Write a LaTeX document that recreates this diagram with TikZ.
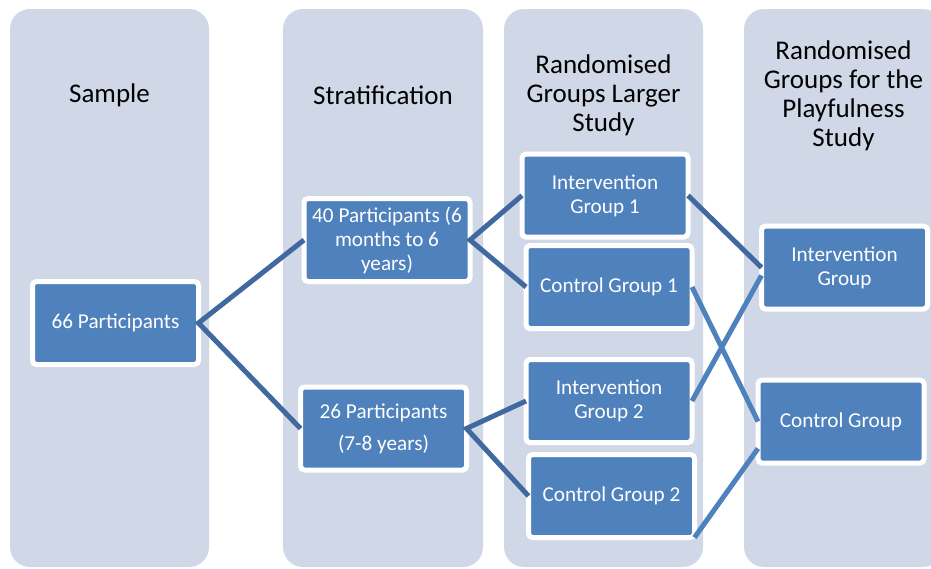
\documentclass[tikz,border=0pt]{standalone}
\usepackage{fontspec}
\setmainfont{Carlito}

\definecolor{colfill}{HTML}{D0D8E8}
\definecolor{boxblue}{HTML}{4F81BD}
\definecolor{linkdark}{HTML}{41699F}
\definecolor{linklight}{HTML}{4F81BD}

\begin{document}
\begin{tikzpicture}[x = 1pt, y = -1pt,
        group/.style = {rectangle, rounded corners = 4pt, fill = boxblue, draw = white, line width = 5pt,
            minimum width = 166pt, minimum height = 83pt, inner sep = 0pt, outer sep = 0pt,
            text = white, align = center, font = \fontsize{21.2}{24}\selectfont},
        heading/.style = {align = center, font = \fontsize{27}{29}\selectfont},
        link/.style = {draw = linkdark, line width = 5pt}]
            % \draw[style = help lines, step = 50] (0,0) grid (931,568);
            \useasboundingbox (0,0) rectangle (931,568);
            \clip (0,0) rectangle (931,568);

            \fill[colfill, rounded corners = 20pt] (10,9) rectangle (209,567);
            \fill[colfill, rounded corners = 20pt] (283,9) rectangle (483,567);
            \fill[colfill, rounded corners = 20pt] (504,9) rectangle (703,567);
            \fill[colfill, rounded corners = 20pt] (744,9) rectangle (943,567);

            \node[heading] (tsample) at (109.5, 95.5) {Sample};
            \node[heading] (tstrat) at (383, 95) {Stratification};
            \node[heading] (tlarger) at (603.5, 95.5) {Randomised\\Groups Larger\\Study};
            \node[heading] (tplay) at (843.5, 95.5) {Randomised\\Groups for the\\Playfulness\\Study};

            \node[group] (p66) at (115.5, 323) {66 Participants};
            \node[group] (p40) at (387, 240) {40 Participants (6\\months to 6\\years)};
            \node[group] (p26) at (383.5, 428.5) {26 Participants\\[8pt](7-8 years)};

            \node[group] (ig1) at (605, 195.5) {Intervention\\Group 1};
            \node[group] (cg1) at (609, 287) {Control Group 1};
            \node[group] (ig2) at (609, 401) {Intervention\\Group 2};
            \node[group] (cg2) at (611.5, 496) {Control Group 2};

            \node[group] (igp) at (844.5, 267.5) {Intervention\\Group};
            \node[group] (cgp) at (841, 421.5) {Control Group};

            \draw[link] (p40.west) -- (p66.east) -- (p26.west);
            \draw[link] (ig1.west) -- (p40.east) -- (cg1.west);
            \draw[link] (ig2.west) -- (p26.east) -- (cg2.west);

            \draw[link] (ig1.east) -- (igp.west);
            \draw[link, draw = linklight] (cg1.east) -- (cgp.west);
            \draw[link, draw = linklight] (ig2.east) -- ([yshift = -8pt]igp.west);
            \draw[link, draw = linklight] (cg2.south east) -- ([yshift = -27pt]cgp.west);
        \end{tikzpicture}
\end{document}
